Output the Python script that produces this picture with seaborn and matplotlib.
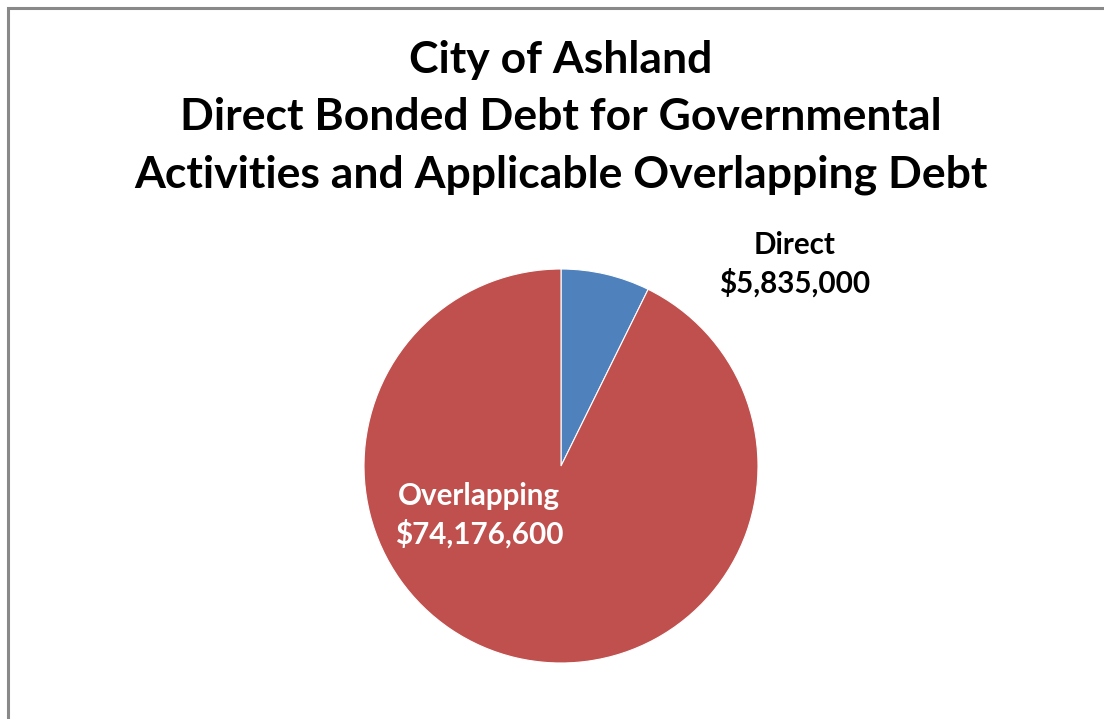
import matplotlib
matplotlib.use("Agg")
import matplotlib.pyplot as plt
import seaborn as sns
from matplotlib.patches import Rectangle

categories = ["Direct", "Overlapping"]
values = [5835000, 74176600]
colors = ["#4F81BD", "#C0504D"]
label_colors = ["black", "white"]
title_lines = ["City of Ashland",
               "Direct Bonded Debt for Governmental",
               "Activities and Applicable Overlapping Debt"]

sns.set_theme(style="white")
plt.rcParams["font.family"] = ["Lato", "DejaVu Sans"]

W, H = 1104, 719
fig = plt.figure(figsize=(W / 100, H / 100), dpi=100)
fig.patch.set_facecolor("white")

# border (clipped at right/bottom like the reference)
fig.patches.append(Rectangle((7.5 / W, -0.1), 1.2, (H - 8.5) / H + 0.1,
                             transform=fig.transFigure, fill=False,
                             edgecolor="#898989", linewidth=2.2))

cx, cy, r = 561, 466, 197
ax = fig.add_axes([(cx - r) / W, (H - cy - r) / H, 2 * r / W, 2 * r / H])
ax.pie(values, colors=colors, startangle=90, counterclock=False,
       radius=1, wedgeprops=dict(edgecolor="white", linewidth=0.8))
ax.set_xlim(-1, 1)
ax.set_ylim(-1, 1)
ax.set_aspect("equal")
ax.axis("off")

# title
for i, line in enumerate(title_lines):
    fig.text(561 / W, 1 - (60 + i * 57.5) / H, line, ha="center", va="center",
             fontsize=32, fontweight="bold", color="black")

label_pos = [(795, 264), (479, 515)]
for cat, val, (px, py), lc in zip(categories, values, label_pos, label_colors):
    fig.text(px / W, 1 - py / H, f"{cat}\n${val:,.0f}", ha="center", va="center",
             fontsize=21.3, fontweight="bold", color=lc, linespacing=1.38)

fig.savefig("out.png", dpi=100, facecolor="white")
